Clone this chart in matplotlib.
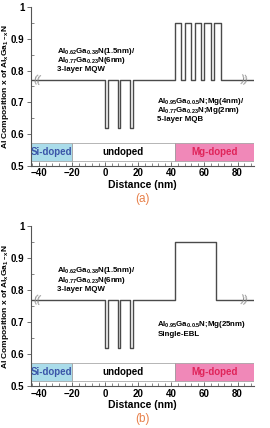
import matplotlib
matplotlib.use("Agg")
import matplotlib.pyplot as plt
import matplotlib.patches as mpatches

plt.rcParams['font.family'] = ['Liberation Sans', 'DejaVu Sans']
plt.rcParams['font.weight'] = 'bold'
plt.rcParams['mathtext.fontset'] = 'custom'
plt.rcParams['mathtext.rm'] = 'Liberation Sans'
plt.rcParams['mathtext.bf'] = 'Liberation Sans:bold'
plt.rcParams['mathtext.default'] = 'bf'

# composition profiles (distance nm, Al fraction) as step edges
base = 0.77
qw_x = [-45, 0, 0, 1.5, 1.5, 7.5, 7.5, 9, 9, 15, 15, 16.5, 16.5]
qw_y = [base, base, 0.62, 0.62, base, base, 0.62, 0.62, base, base, 0.62, 0.62, base]
mqb_x = [42, 42, 46, 46, 48, 48, 52, 52, 54, 54, 58, 58, 60, 60, 64, 64, 66, 66, 70, 70, 90]
mqb_y = [base, 0.95, 0.95, base, base, 0.95, 0.95, base, base, 0.95, 0.95, base,
         base, 0.95, 0.95, base, base, 0.95, 0.95, base, base]
ebl_x = [42, 42, 67, 67, 90]
ebl_y = [base, 0.95, 0.95, base, base]

# doping regions
regions = ["Si-doped", "undoped", "Mg-doped"]
region_start = [-45, -20, 42]
region_end = [-20, 42, 90]
region_fill = ["#aadcea", "white", "#f088b8"]
region_text = ["#3b55a8", "black", "#e0245a"]

mqw_text = ["Al$_{0.62}$Ga$_{0.38}$N(1.5nm)/", "Al$_{0.77}$Ga$_{0.23}$N(6nm)", "3-layer MQW"]
mqb_text = ["Al$_{0.95}$Ga$_{0.0.5}$N;Mg(4nm)/", "Al$_{0.77}$Ga$_{0.23}$N;Mg(2nm)", "5-layer MQB"]
ebl_text = ["Al$_{0.95}$Ga$_{0.0.5}$N;Mg(25nm)", "Single-EBL"]

line_col = "#4a4a4a"

fig = plt.figure(figsize=(2.7, 4.28), dpi=100)

panels = [
    dict(rect=[0.114, 0.612, 0.827, 0.372], x=qw_x + mqb_x, y=qw_y + mqb_y, tag="(a)",
         right=mqb_text, ry=0.704),
    dict(rect=[0.114, 0.097, 0.827, 0.375], x=qw_x + ebl_x, y=qw_y + ebl_y, tag="(b)",
         right=ebl_text, ry=0.692),
]

for p in panels:
    ax = fig.add_axes(p['rect'])
    ax.plot(p['x'], p['y'], color=line_col, lw=1.0)
    for name, s, e, fc, tc in zip(regions, region_start, region_end, region_fill, region_text):
        ax.add_patch(mpatches.Rectangle((s, 0.517), e - s, 0.055, facecolor=fc,
                                        edgecolor="#999999", lw=0.5, zorder=2))
        ax.text((s + e) / 2, 0.5445, name, color=tc, ha='center', va='center',
                fontsize=7, fontweight='bold', zorder=3)
    # axis break marks
    ax.text(-41.5, base, "((", color="#888888", ha='center', va='center', fontsize=8,
            fontweight='normal', rotation=-10)
    ax.text(84.5, base, "))", color="#888888", ha='center', va='center', fontsize=8,
            fontweight='normal', rotation=-10)

    for i, t in enumerate(mqw_text):
        ax.text(-29, 0.860 - 0.029 * i, t, fontsize=5.7, va='center', ha='left')
    for i, t in enumerate(p['right']):
        ax.text(31.5, p['ry'] - 0.029 * i, t, fontsize=5.7, va='center', ha='left')

    ax.set_xlim(-45, 90)
    ax.set_ylim(0.5, 1.0)
    ax.set_xticks([-40, -20, 0, 20, 40, 60, 80])
    ax.set_xticks(range(-44, 90, 4), minor=True)
    ax.set_yticks([0.5, 0.6, 0.7, 0.8, 0.9, 1.0])
    ax.set_yticklabels(["0.5", "0.6", "0.7", "0.8", "0.9", "1"])
    ax.set_yticks([0.55, 0.65, 0.75, 0.85, 0.95], minor=True)
    ax.spines['top'].set_visible(False)
    ax.spines['right'].set_visible(False)
    for s in ['left', 'bottom']:
        ax.spines[s].set_color("#555555")
        ax.spines[s].set_linewidth(0.8)
    ax.tick_params(axis='both', which='major', labelsize=7, length=3, width=0.6,
                   colors="#555555", labelcolor="black", pad=1.5)
    ax.tick_params(axis='x', which='both', direction='in')
    ax.tick_params(axis='y', which='minor', direction='in', length=2, width=0.5, colors="#555555")
    ax.tick_params(axis='x', which='minor', length=2, width=0.5, colors="#555555")
    for lab in ax.get_xticklabels() + ax.get_yticklabels():
        lab.set_fontweight('bold')
    ax.set_xlabel("Distance (nm)", fontsize=7.5, fontweight='bold', labelpad=1)
    ax.set_ylabel("Al Composition x of Al$_x$Ga$_{1-x}$N", fontsize=6, fontweight='bold')
    ax.yaxis.set_label_coords(-0.088, 0.5)
    ax.text(0.5, -0.205, p['tag'], transform=ax.transAxes, ha='center', va='center',
            fontsize=8.5, fontweight='normal', color="#e8804a")

fig.savefig("out.png", dpi=100)
